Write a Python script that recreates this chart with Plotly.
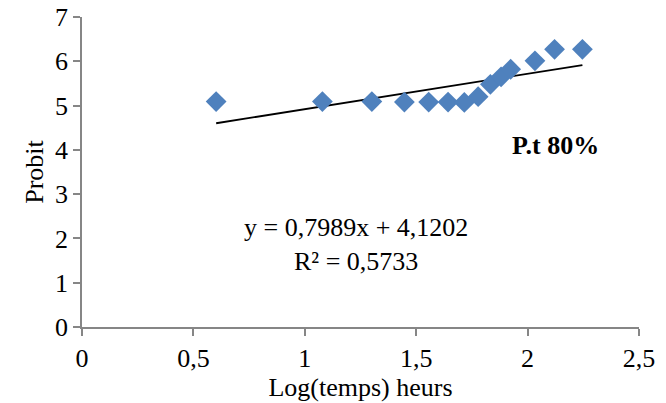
import plotly.graph_objects as go

log_time = [0.602, 1.079, 1.301, 1.447, 1.556, 1.643, 1.716, 1.778, 1.833, 1.881, 1.924, 2.033, 2.121, 2.246]
probit = [5.09, 5.09, 5.09, 5.08, 5.08, 5.08, 5.07, 5.20, 5.48, 5.65, 5.82, 6.01, 6.27, 6.27]
slope = 0.7989
intercept = 4.1202
x_ticks = [0, 0.5, 1, 1.5, 2, 2.5]
x_tick_labels = ["0", "0,5", "1", "1,5", "2", "2,5"]
y_ticks = [0, 1, 2, 3, 4, 5, 6, 7]

font_family = "Liberation Serif, Times New Roman, serif"
axis_color = "#868686"

x_fit = [min(log_time), max(log_time)]
y_fit = [slope * v + intercept for v in x_fit]

fig = go.Figure()
fig.add_trace(go.Scatter(x=x_fit, y=y_fit, mode="lines",
                         line=dict(color="black", width=1.8), showlegend=False,
                         hoverinfo="skip"))
fig.add_trace(go.Scatter(x=log_time, y=probit, mode="markers",
                         marker=dict(symbol="diamond", size=16, color="#4F81BD"),
                         showlegend=False))

fig.add_annotation(x=1.23, y=2.24, text="y = 0,7989x + 4,1202", showarrow=False,
                   font=dict(family=font_family, size=26, color="black"))
fig.add_annotation(x=1.23, y=1.47, text="R² = 0,5733", showarrow=False,
                   font=dict(family=font_family, size=26, color="black"))
fig.add_annotation(x=2.124, y=4.10, text="<b>P.t 80%</b>", showarrow=False,
                   font=dict(family=font_family, size=26, color="black"))

fig.update_layout(
    width=666, height=403,
    margin=dict(l=82, r=27, t=17, b=76),
    plot_bgcolor="white", paper_bgcolor="white",
    font=dict(family=font_family, size=26, color="black"),
    xaxis=dict(range=[0, 2.5], tickvals=x_ticks, ticktext=x_tick_labels,
               automargin=False,
               showgrid=False, zeroline=False, showline=True, linecolor=axis_color,
               linewidth=1.5, ticks="outside", ticklen=7, tickcolor=axis_color,
               tickwidth=1.5, title=dict(text="Log(temps) heurs", standoff=0,
                                         font=dict(size=26))),
    yaxis=dict(range=[0, 7], tickvals=y_ticks, showgrid=False, zeroline=False,
               automargin=False,
               showline=True, linecolor=axis_color, linewidth=1.5, ticks="outside",
               ticklen=7, tickcolor=axis_color, tickwidth=1.5,
               title=dict(text="Probit", standoff=4, font=dict(size=26))),
)

fig.write_html("out.html")
